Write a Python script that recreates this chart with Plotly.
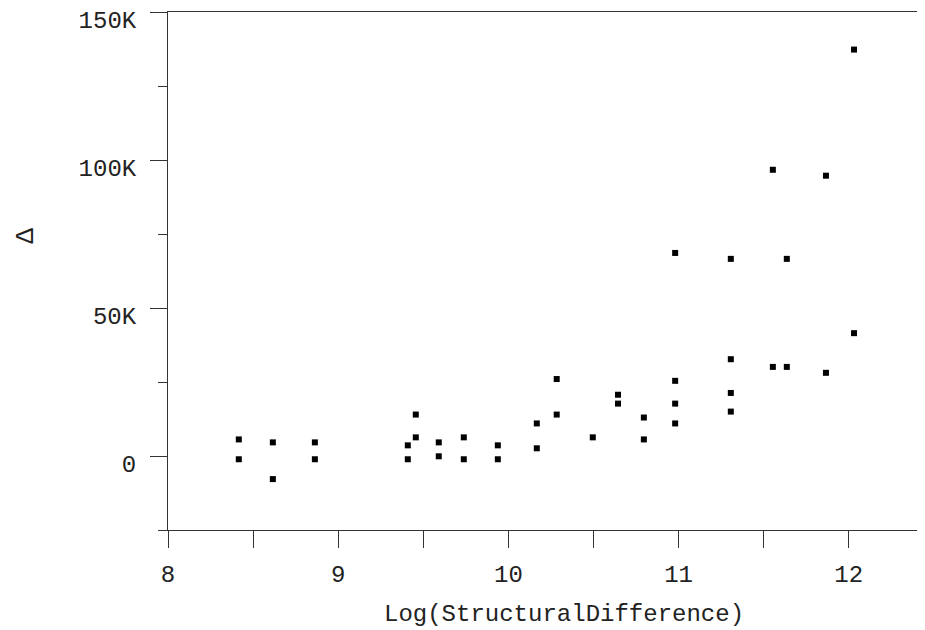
import plotly.graph_objects as go

# Data
log_structural_difference = [
    8.416, 8.416, 8.616, 8.616, 8.863, 8.863,
    9.409, 9.409, 9.456, 9.456, 9.591, 9.591, 9.738, 9.738, 9.938, 9.938,
    10.167, 10.167, 10.284, 10.284, 10.496, 10.644, 10.644, 10.796, 10.796,
    10.98, 10.98, 10.98, 10.98,
    11.307, 11.307, 11.307, 11.307,
    11.554, 11.554, 11.636, 11.636, 11.866, 11.866, 12.031, 12.031,
]
delta = [
    5600, -1100, 4600, -7800, 4600, -1100,
    3600, -1100, 14000, 6300, 4600, -100, 6300, -1100, 3600, -1100,
    11000, 2600, 26000, 14000, 6300, 20700, 17700, 13000, 5600,
    68600, 25400, 17700, 11000,
    66600, 32700, 21300, 15000,
    96700, 30100, 66600, 30100, 94700, 28100, 137300, 41500,
]

x_tick_vals = [8, 9, 10, 11, 12]
x_tick_text = ["8", "9", "10", "11", "12"]
y_tick_vals = [0, 50000, 100000, 150000]
y_tick_text = ["0", "50K", "100K", "150K"]
y_minor_vals = [-25000, 25000, 75000, 125000]

Y_RANGE = [-25000, 150000]
# labels in the reference hang just below their ticks: a label-only overlay
# axis whose range is offset by ~8px worth of data units
LABEL_SHIFT = 8 * (Y_RANGE[1] - Y_RANGE[0]) / 521

FONT = "Liberation Mono, Courier New, monospace"
TEXT_COLOR = "#222"
LINE_COLOR = "#333"

fig = go.Figure()
fig.add_trace(go.Scatter(
    x=log_structural_difference, y=delta, mode="markers",
    marker=dict(symbol="square", size=6, color="black", line=dict(width=0)),
    showlegend=False, hoverinfo="x+y",
))
# invisible helper trace so the label axis is active
fig.add_trace(go.Scatter(
    x=[None], y=[None], yaxis="y2", mode="markers",
    showlegend=False, hoverinfo="skip",
))

fig.update_layout(
    width=917, height=622,
    margin=dict(l=160, r=0, t=1, b=100),
    paper_bgcolor="white", plot_bgcolor="white",
    font=dict(family=FONT, size=24, color=TEXT_COLOR),
    xaxis=dict(
        range=[8, 12.448], showgrid=False, zeroline=False,
        showline=True, linecolor=LINE_COLOR, linewidth=1, mirror=True,
        tickmode="array", tickvals=x_tick_vals, ticktext=x_tick_text,
        ticks="outside", ticklen=17, tickcolor=LINE_COLOR, tickwidth=1,
        ticklabelstandoff=5,
        minor=dict(dtick=0.5, tick0=8, ticks="outside", ticklen=17,
                   tickcolor=LINE_COLOR, tickwidth=1, showgrid=False),
        tickfont=dict(family=FONT, size=24, color=TEXT_COLOR),
    ),
    yaxis=dict(
        range=Y_RANGE, showgrid=False, zeroline=False,
        showline=True, linecolor=LINE_COLOR, linewidth=1,
        tickmode="array", tickvals=y_tick_vals,
        showticklabels=False,
        ticks="outside", ticklen=17, tickcolor=LINE_COLOR, tickwidth=1,
        minor=dict(tickvals=y_minor_vals, ticks="outside",
                   ticklen=9, tickcolor=LINE_COLOR, tickwidth=1, showgrid=False),
    ),
    yaxis2=dict(
        overlaying="y", side="left", anchor="x",
        range=[Y_RANGE[0] + LABEL_SHIFT, Y_RANGE[1] + LABEL_SHIFT],
        showgrid=False, zeroline=False, showline=False,
        tickmode="array", tickvals=y_tick_vals, ticktext=y_tick_text,
        ticks="outside", ticklen=17, tickcolor="rgba(0,0,0,0)",
        ticklabelstandoff=9, ticklabeloverflow="allow",
        tickfont=dict(family=FONT, size=24, color=TEXT_COLOR),
    ),
    annotations=[
        dict(text="Log(StructuralDifference)", xref="paper", yref="paper",
             x=0.5225, y=-0.163, xanchor="center", yanchor="middle",
             showarrow=False, font=dict(family=FONT, size=24, color=TEXT_COLOR)),
        dict(text="Δ", xref="paper", yref="paper",
             x=-0.187, y=0.569, xanchor="center", yanchor="middle",
             textangle=-90, showarrow=False,
             font=dict(family=FONT, size=26, color=TEXT_COLOR)),
    ],
)

fig.write_html("out.html")
